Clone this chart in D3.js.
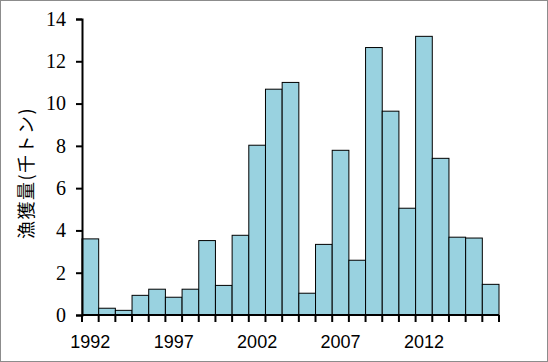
<!DOCTYPE html>
<html>
<head>
<meta charset="utf-8">
<script src="https://cdn.jsdelivr.net/npm/d3@7"></script>
<style>
body { margin: 0; background: #fff; }
svg { display: block; }
</style>
</head>
<body>
<div id="chart"></div>
<script>
var years = d3.range(1992, 2017);
var catch_kt = [3.6, 0.32, 0.22, 0.93, 1.22, 0.84, 1.22, 3.52, 1.4, 3.77,
	8.03, 10.68, 11.0, 1.03, 3.34, 7.79, 2.59, 12.65, 9.64, 5.05,
	13.18, 7.41, 3.68, 3.64, 1.45];
var yTicks = [0, 2, 4, 6, 8, 10, 12, 14];
var xLabels = [1992, 1997, 2002, 2007, 2012];
var yTitle = "漁獲量(千トン)";

var W = 548, H = 362;
var margin = {l:82, r:49, t:19, b:47};

var svg = d3.select("#chart").append("svg")
	.attr("width", W).attr("height", H);

// outer frame
svg.append("rect")
	.attr("x", 0.5).attr("y", 0.5)
	.attr("width", W-1).attr("height", H-1)
	.attr("fill", "#fff").attr("stroke", "#8c8c8c");

var x = d3.scaleBand()
	.domain(years)
	.range([margin.l, W-margin.r])
	.padding(0);

var y = d3.scaleLinear()
	.domain([0, 14])
	.range([H-margin.b, margin.t]);

// bars
svg.append("g").selectAll("rect")
	.data(years)
	.enter().append("rect")
	.attr("x", function(d) { return x(d); })
	.attr("y", function(d, i) { return y(catch_kt[i]); })
	.attr("width", x.bandwidth())
	.attr("height", function(d, i) { return y(0) - y(catch_kt[i]); })
	.attr("fill", "#99d2e0")
	.attr("stroke", "#000")
	.attr("stroke-width", 1);

// y axis
var yAxis = svg.append("g")
	.attr("transform", "translate(" + margin.l + ",0)")
	.call(d3.axisLeft(y).tickValues(yTicks).tickSize(6).tickPadding(10));
yAxis.attr("font-family", null).attr("font-size", null);
yAxis.select(".domain").attr("stroke-width", 2);
yAxis.selectAll(".tick line").attr("stroke-width", 2);
yAxis.selectAll("text")
	.style("font-family", "'Liberation Serif', 'DejaVu Serif', serif")
	.style("font-size", "20px")
	.attr("fill", "#000");

// x axis: ticks on category boundaries
var xg = svg.append("g")
	.attr("transform", "translate(0," + y(0) + ")");
xg.append("line")
	.attr("x1", margin.l).attr("x2", W-margin.r)
	.attr("stroke", "#000").attr("stroke-width", 2);
xg.selectAll(".bt")
	.data(years.concat([2017]))
	.enter().append("line")
	.attr("x1", function(d) { return d === 2017 ? W-margin.r : x(d); })
	.attr("x2", function(d) { return d === 2017 ? W-margin.r : x(d); })
	.attr("y1", 0).attr("y2", 7)
	.attr("stroke", "#000").attr("stroke-width", 2);
xg.selectAll(".lbl")
	.data(xLabels)
	.enter().append("text")
	.attr("x", function(d) { return x(d) + x.bandwidth()/2; })
	.attr("y", 33)
	.attr("text-anchor", "middle")
	.style("font-family", "'Liberation Sans Narrow', 'Liberation Sans', sans-serif")
	.style("font-size", "18px")
	.text(function(d) { return d; });

// y title
svg.append("text")
	.attr("transform", "translate(33,173) rotate(-90)")
	.attr("text-anchor", "middle")
	.style("font-family", "'Noto Sans CJK JP', sans-serif")
	.style("font-size", "18px")
	.attr("letter-spacing", 1.5)
	.text(yTitle);
</script>
</body>
</html>
